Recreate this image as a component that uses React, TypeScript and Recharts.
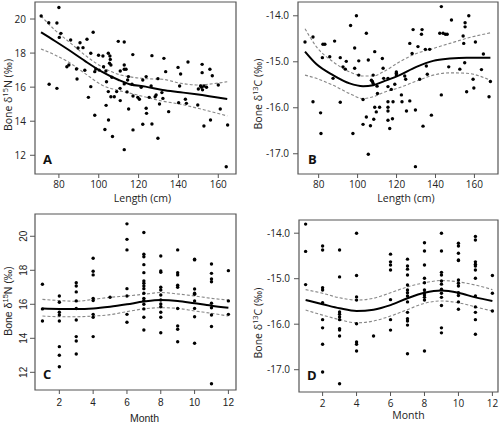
import React from "react";
import {
  ComposedChart,
  Scatter,
  Line,
  XAxis,
  YAxis,
  ReferenceArea,
} from "recharts";

// ---- Panel A: length vs bone d15N ----
const A_LENGTH = [
  71.1, 74.9, 79.0, 80.0, 81.0, 80.2, 75.1, 79.0, 85.9, 90.6,
  89.6, 92.1, 94.1, 97.2, 96.0, 84.0, 85.0, 88.8, 93.0, 89.1,
  96.0, 94.8, 98.0, 98.0, 98.5, 99.9, 100.2, 102.1, 102.4, 103.1,
  103.6, 103.9, 103.7, 104.8, 105.6, 105.8, 105.4, 106.1, 104.8, 104.9,
  106.1, 106.6, 106.9, 107.8, 109.0, 109.8, 110.7, 110.8, 110.8, 112.8,
  112.8, 112.8, 113.7, 112.8, 112.8, 114.5, 114.9, 114.2, 115.0, 116.7,
  117.1, 117.2, 117.2, 119.6, 120.4, 121.3, 122.1, 122.1, 123.8, 123.8,
  124.0, 125.3, 126.3, 126.7, 126.7, 128.3, 128.8, 129.7, 129.7, 130.5,
  131.7, 132.2, 132.7, 133.6, 135.1, 139.8, 140.1, 141.1, 140.6, 143.5,
  144.8, 144.0, 149.7, 150.0, 151.1, 151.6, 151.9, 151.9, 152.1, 152.8,
  152.8, 154.1, 155.8, 156.1, 157.0, 160.0, 161.0, 164.7, 164.0,
];
const A_D15N = [
  20.18, 19.78, 19.77, 20.68, 19.16, 18.92, 16.17, 15.93, 18.77, 18.61,
  18.3, 18.32, 18.81, 19.22, 17.99, 17.2, 17.3, 17.07, 16.99, 16.48,
  16.03, 15.4, 14.35, 16.91, 17.07, 17.87, 17.0, 17.83, 17.2, 13.51,
  16.95, 16.32, 14.93, 17.99, 17.83, 17.63, 17.4, 17.3, 15.74, 14.07,
  15.44, 16.58, 13.1, 15.44, 15.74, 18.69, 15.93, 16.95, 15.21, 18.65,
  17.3, 17.05, 17.05, 16.19, 12.33, 16.42, 16.62, 15.72, 14.72, 16.17,
  17.91, 15.48, 13.49, 15.4, 15.29, 15.99, 16.42, 13.82, 16.62, 14.76,
  14.46, 15.4, 16.07, 17.85, 13.84, 15.44, 15.54, 16.5, 13.0, 15.01,
  15.68, 15.34, 17.69, 16.91, 14.56, 17.16, 15.09, 16.77, 16.07, 15.29,
  17.48, 15.05, 14.95, 15.89, 16.07, 15.99, 17.34, 16.85, 15.84, 16.07,
  13.72, 15.99, 17.05, 14.07, 16.67, 16.13, 14.72, 13.78, 11.33,
];
const A_FIT_X = [71, 78, 85, 93, 101.5, 110, 115.5, 123.5, 132, 141, 149, 164.5];
const A_FIT = [19.22, 18.71, 18.18, 17.54, 16.91, 16.42, 16.17, 16.03, 15.83, 15.7, 15.58, 15.3];
const A_UPPER = [20.19, 19.35, 18.67, 17.89, 17.2, 16.75, 16.61, 16.5, 16.46, 16.23, 16.13, 16.32];
const A_LOWER = [18.24, 17.89, 17.46, 16.81, 16.13, 15.8, 15.65, 15.42, 15.18, 15.0, 14.78, 14.31];

// ---- Panel B: length vs bone d13C ----
const B_LENGTH = [
  73.0, 77.1, 77.1, 82.2, 83.2, 81.9, 81.0, 81.2, 85.7, 88.2,
  87.4, 91.1, 91.1, 92.5, 94.2, 93.7, 96.4, 98.5, 98.5, 99.4,
  100.6, 100.6, 97.6, 102.8, 102.8, 104.5, 104.5, 105.5, 105.5, 106.6,
  107.1, 107.6, 108.0, 108.0, 108.3, 108.8, 108.8, 109.6, 110.0, 110.2,
  111.3, 112.7, 113.1, 113.4, 115.6, 115.6, 115.6, 115.6, 115.6, 115.6,
  116.5, 117.3, 117.9, 118.2, 119.1, 119.9, 119.9, 119.9, 122.5, 122.8,
  124.2, 124.7, 125.1, 126.8, 126.8, 128.0, 128.5, 129.7, 129.7, 131.0,
  131.9, 132.8, 133.1, 133.6, 134.8, 135.3, 135.8, 137.0, 137.9, 142.2,
  143.0, 143.9, 145.1, 146.0, 143.0, 146.8, 148.2, 154.2, 154.5, 152.5,
  155.2, 155.2, 155.0, 156.0, 157.1, 159.3, 159.7, 160.5, 163.6, 164.6,
  167.5, 168.2,
];
const B_D13C = [
  -14.57, -14.46, -15.87, -14.62, -14.62, -14.91, -16.11, -16.56, -14.89, -14.55,
  -15.36, -14.91, -15.88, -15.11, -14.99, -15.16, -14.21, -14.7, -15.14, -14.0,
  -14.98, -15.29, -16.56, -15.82, -16.36, -14.38, -16.2, -14.96, -17.01, -16.39,
  -15.4, -15.43, -15.47, -15.29, -16.25, -14.78, -15.99, -16.09, -15.53, -15.69,
  -15.99, -14.93, -15.14, -15.36, -15.36, -15.54, -15.87, -15.99, -16.07, -16.27,
  -16.45, -15.6, -16.24, -15.87, -15.49, -15.22, -15.25, -15.29, -15.72, -15.87,
  -15.31, -15.38, -16.07, -14.6, -15.85, -14.82, -14.3, -16.05, -17.28, -14.67,
  -15.38, -14.4, -14.3, -16.4, -14.73, -15.09, -15.27, -14.73, -16.16, -14.38,
  -13.8, -14.38, -14.4, -14.4, -15.72, -15.11, -14.09, -14.44, -14.6, -15.16,
  -14.15, -14.24, -15.02, -15.65, -14.0, -15.38, -15.57, -14.57, -15.17, -14.83,
  -15.76, -15.43,
];
const B_FIT_X = [73, 78.8, 87.4, 95.9, 102.8, 108, 113.1, 121.6, 130.2, 138.8, 147.4, 156, 168.2];
const B_FIT = [-14.78, -15.05, -15.29, -15.47, -15.53, -15.51, -15.43, -15.29, -15.11, -14.98, -14.93, -14.91, -14.91];
const B_UPPER = [-14.28, -14.67, -15.0, -15.22, -15.31, -15.31, -15.22, -15.0, -14.82, -14.71, -14.6, -14.49, -14.37];
const B_LOWER = [-15.29, -15.36, -15.51, -15.69, -15.8, -15.76, -15.67, -15.56, -15.42, -15.29, -15.24, -15.25, -15.4];

// ---- Panel C: month vs bone d15N ----
const C_MONTH = [
  1, 1, 1,
  2, 2, 2, 2, 2, 2, 2, 2,
  3, 3, 3, 3, 3, 3, 3, 3, 3,
  4, 4, 4, 4, 4, 4, 4, 4,
  5,
  6, 6, 6, 6, 6, 6, 6,
  7, 7, 7, 7, 7, 7, 7, 7, 7, 7, 7, 7, 7, 7, 7, 7,
  8, 8, 8, 8, 8, 8, 8, 8, 8, 8, 8, 8,
  9, 9, 9, 9, 9, 9, 9, 9, 9,
  10, 10, 10, 10, 10, 10, 10, 10, 10,
  11, 11, 11, 11, 11, 11, 11, 11, 11,
  12, 12, 12,
];
const C_D15N = [
  17.18, 15.73, 15.02,
  16.49, 16.12, 15.53, 15.37, 15.02, 13.51, 13.0, 12.33,
  17.27, 17.08, 16.73, 16.2, 15.75, 15.08, 14.1, 13.84, 13.08,
  18.71, 17.94, 17.73, 16.35, 16.22, 15.41, 15.24, 14.1,
  16.41,
  20.73, 19.82, 19.2, 16.92, 16.49, 15.41, 14.94,
  20.22, 18.94, 18.8, 18.33, 17.86, 17.37, 17.24, 17.08, 16.92, 16.65, 16.35, 16.22, 16.0, 15.73, 15.24, 14.49,
  18.84, 17.96, 17.88, 17.0, 16.84, 16.55, 16.25, 16.02, 15.86, 15.53, 15.24, 14.33,
  19.2, 17.86, 17.73, 17.12, 17.0, 15.75, 14.73, 14.53, 13.8,
  18.65, 18.61, 16.9, 16.65, 16.59, 16.2, 15.76, 15.27, 13.71,
  18.37, 17.82, 17.49, 17.33, 16.06, 15.8, 15.37, 14.69, 11.33,
  17.98, 16.2, 15.41,
];
const MONTHS = [1, 2, 3, 4, 5, 6, 7, 8, 9, 10, 11, 12];
const C_FIT = [15.75, 15.73, 15.73, 15.76, 15.86, 16.0, 16.16, 16.25, 16.2, 16.06, 15.92, 15.8];
const C_UPPER = [16.29, 16.22, 16.18, 16.29, 16.41, 16.49, 16.59, 16.69, 16.61, 16.49, 16.35, 16.25];
const C_LOWER = [15.31, 15.27, 15.27, 15.31, 15.39, 15.57, 15.73, 15.8, 15.76, 15.61, 15.47, 15.31];

// ---- Panel D: month vs bone d13C ----
const D_MONTH = [
  1, 1, 1,
  2, 2, 2, 2, 2, 2, 2, 2, 2,
  3, 3, 3, 3, 3, 3, 3, 3, 3, 3,
  4, 4, 4, 4, 4, 4, 4, 4,
  5,
  6, 6, 6, 6, 6, 6, 6,
  7, 7, 7, 7, 7, 7, 7, 7, 7, 7, 7, 7, 7, 7,
  8, 8, 8, 8, 8, 8, 8, 8, 8, 8, 8,
  9, 9, 9, 9, 9, 9, 9, 9, 9, 9, 9, 9,
  10, 10, 10, 10, 10, 10, 10, 10, 10, 10, 10, 10,
  11, 11, 11, 11, 11, 11, 11, 11, 11, 11, 11, 11,
  12, 12, 12,
];
const D_D13C = [
  -13.8, -14.4, -15.13,
  -14.28, -14.37, -15.2, -15.25, -15.53, -15.9, -16.08, -16.44, -17.05,
  -14.37, -14.96, -15.73, -15.78, -15.84, -15.9, -16.1, -16.13, -16.26, -17.31,
  -14.0, -14.93, -15.4, -15.47, -15.99, -16.39, -16.44, -16.59,
  -16.26,
  -14.46, -14.63, -14.7, -14.81, -15.46, -15.9, -16.13,
  -14.57, -14.72, -14.79, -14.92, -15.14, -15.25, -15.31, -15.38, -15.51, -15.74, -15.88, -15.93, -16.02, -16.65,
  -14.21, -14.39, -14.7, -14.99, -15.09, -15.25, -15.31, -15.36, -15.41, -15.47, -16.59,
  -14.0, -14.39, -14.86, -14.92, -15.05, -15.12, -15.23, -15.32, -15.41, -15.59, -16.08, -16.19,
  -14.22, -14.28, -14.44, -14.59, -14.6, -15.03, -15.1, -15.16, -15.31, -15.37, -15.51, -15.67,
  -14.07, -14.15, -14.63, -14.68, -14.72, -14.81, -14.99, -15.38, -15.62, -15.74, -15.9, -16.22,
  -14.93, -15.32, -15.71,
];
const D_FIT = [-15.47, -15.56, -15.65, -15.71, -15.68, -15.58, -15.43, -15.31, -15.26, -15.31, -15.41, -15.49];
const D_UPPER = [-15.24, -15.32, -15.42, -15.47, -15.43, -15.31, -15.18, -15.09, -15.04, -15.07, -15.14, -15.24];
const D_LOWER = [-15.69, -15.8, -15.9, -15.97, -15.93, -15.82, -15.68, -15.54, -15.49, -15.53, -15.62, -15.71];

const LENGTH_TICKS = [80, 100, 120, 140, 160];
const MONTH_TICKS = [2, 4, 6, 8, 10, 12];
const N_TICKS = [12, 14, 16, 18, 20];
const C_TICKS = [-17, -16.5, -16, -15.5, -15, -14.5, -14];

const SANS = "'Open Sans', sans-serif";
const ARIAL = "'Liberation Sans', Arial, sans-serif";
const AXIS = "#555";
const INK = "#222";

const pts = (xs: number[], ys: number[]) => xs.map((x, i) => ({ x, y: ys[i] }));

const Dot = (p: any) => <circle cx={p.cx} cy={p.cy} r={1.7} fill="#000" />;

type PanelProps = {
  left: number;
  top: number;
  height: number;
  margin: { top: number; right: number };
  yWidth: number;
  xHeight: number;
  xDomain: [number, number];
  yDomain: [number, number];
  xTicks: number[];
  yTicks: number[];
  points: { x: number; y: number }[];
  fitX: number[];
  fit: number[];
  upper: number[];
  lower: number[];
  xTitle: string;
  iso: [string, string];
  font: string;
  rotateY?: boolean;
  decimals: number;
  xTickMargin: number;
  xTitleDx: number;
  xTitleDy: number;
  yTitleDy: number;
};

function Panel(p: PanelProps) {
  const tickStyle = { fill: INK, fontSize: 10, fontFamily: p.font };
  const yTick = (t: any) => {
    const label = t.payload.value.toFixed(p.decimals);
    if (p.rotateY) {
      return (
        <text
          x={t.x + 1}
          y={t.y}
          transform={`rotate(-90 ${t.x + 1} ${t.y})`}
          textAnchor="middle"
          fontSize={10}
          fontFamily={p.font}
          fill={INK}
        >
          {label}
        </text>
      );
    }
    return (
      <text x={t.x} y={t.y} dy="0.35em" textAnchor="end" {...tickStyle}>
        {label}
      </text>
    );
  };
  const yTitle = (props: any) => {
    const vb = props.viewBox;
    const x = vb.x + 12;
    const y = vb.y + vb.height / 2 + p.yTitleDy;
    return (
      <text
        x={x}
        y={y}
        transform={`rotate(-90 ${x} ${y})`}
        textAnchor="middle"
        fontSize={10.5}
        fontFamily={p.font}
        fill={INK}
      >
        Bone δ
        <tspan dy={-4} fontSize={7.5}>
          {p.iso[0]}
        </tspan>
        <tspan dy={4}>{p.iso[1]} (‰)</tspan>
      </text>
    );
  };
  const xTitle = (props: any) => {
    const vb = props.viewBox;
    return (
      <text
        x={vb.x + vb.width / 2 + p.xTitleDx}
        y={vb.y + p.xTitleDy}
        textAnchor="middle"
        fontSize={10.5}
        fontFamily={p.font}
        fill={INK}
      >
        {p.xTitle}
      </text>
    );
  };
  return (
    <div style={{ position: "absolute", left: p.left, top: p.top }}>
      <ComposedChart
        width={250}
        height={p.height}
        margin={{ top: p.margin.top, right: p.margin.right, left: 0, bottom: 0 }}
      >
        <XAxis
          type="number"
          dataKey="x"
          domain={p.xDomain}
          ticks={p.xTicks}
          allowDataOverflow
          height={p.xHeight}
          axisLine={false}
          tickLine={{ stroke: AXIS }}
          tickSize={4}
          tickMargin={p.xTickMargin}
          tick={tickStyle}
          label={xTitle}
        />
        <YAxis
          type="number"
          dataKey="y"
          domain={p.yDomain}
          ticks={p.yTicks}
          allowDataOverflow
          width={p.yWidth}
          axisLine={false}
          tickLine={{ stroke: AXIS }}
          tickSize={5}
          tickMargin={4}
          tick={yTick}
          label={yTitle}
        />
        <ReferenceArea
          x1={p.xDomain[0]}
          x2={p.xDomain[1]}
          y1={p.yDomain[0]}
          y2={p.yDomain[1]}
          fill="none"
          stroke={AXIS}
          strokeWidth={1.2}
        />
        <Scatter data={p.points} dataKey="y" shape={Dot} isAnimationActive={false} />
        <Line
          data={pts(p.fitX, p.upper)}
          dataKey="y"
          type="monotone"
          stroke="#888"
          strokeWidth={1.1}
          strokeDasharray="3 2"
          dot={false}
          isAnimationActive={false}
        />
        <Line
          data={pts(p.fitX, p.lower)}
          dataKey="y"
          type="monotone"
          stroke="#888"
          strokeWidth={1.1}
          strokeDasharray="3 2"
          dot={false}
          isAnimationActive={false}
        />
        <Line
          data={pts(p.fitX, p.fit)}
          dataKey="y"
          type="monotone"
          stroke="#000"
          strokeWidth={2}
          dot={false}
          isAnimationActive={false}
        />
      </ComposedChart>
    </div>
  );
}

export default function App() {
  return (
    <div
      style={{
        position: "absolute",
        left: 0,
        top: 0,
        width: 500,
        height: 423,
        background: "#fff",
        overflow: "hidden",
      }}
    >
      <Panel
        left={0}
        top={0}
        height={210}
        margin={{ top: 2, right: 14 }}
        yWidth={35}
        xHeight={36}
        xDomain={[68, 168.9]}
        yDomain={[10.9, 21.0]}
        xTicks={LENGTH_TICKS}
        yTicks={N_TICKS}
        points={pts(A_LENGTH, A_D15N)}
        fitX={A_FIT_X}
        fit={A_FIT}
        upper={A_UPPER}
        lower={A_LOWER}
        xTitle="Length (cm)"
        iso={["15", "N"]}
        font={SANS}
        decimals={0}
        xTickMargin={3}
        xTitleDx={7}
        xTitleDy={28}
        yTitleDy={7}
      />
      <Panel
        left={250}
        top={0}
        height={210}
        margin={{ top: 2, right: 2 }}
        yWidth={48}
        xHeight={36}
        xDomain={[69.4, 172.1]}
        yDomain={[-17.44, -13.7]}
        xTicks={LENGTH_TICKS}
        yTicks={C_TICKS}
        points={pts(B_LENGTH, B_D13C)}
        fitX={B_FIT_X}
        fit={B_FIT}
        upper={B_UPPER}
        lower={B_LOWER}
        xTitle="Length (cm)"
        iso={["13", "C"]}
        font={SANS}
        decimals={1}
        xTickMargin={3}
        xTitleDx={8}
        xTitleDy={28}
        yTitleDy={6}
      />
      <Panel
        left={0}
        top={210}
        height={213}
        margin={{ top: 4, right: 14 }}
        yWidth={35}
        xHeight={33}
        xDomain={[0.56, 12.45]}
        yDomain={[10.96, 21.31]}
        xTicks={MONTH_TICKS}
        yTicks={N_TICKS}
        points={pts(C_MONTH, C_D15N)}
        fitX={MONTHS}
        fit={C_FIT}
        upper={C_UPPER}
        lower={C_LOWER}
        xTitle="Month"
        iso={["15", "N"]}
        font={ARIAL}
        rotateY
        decimals={0}
        xTickMargin={5}
        xTitleDx={9}
        xTitleDy={32}
        yTitleDy={-1}
      />
      <Panel
        left={250}
        top={210}
        height={213}
        margin={{ top: 10, right: 2 }}
        yWidth={49}
        xHeight={31}
        xDomain={[0.61, 12.33]}
        yDomain={[-17.49, -13.71]}
        xTicks={MONTH_TICKS}
        yTicks={C_TICKS}
        points={pts(D_MONTH, D_D13C)}
        fitX={MONTHS}
        fit={D_FIT}
        upper={D_UPPER}
        lower={D_LOWER}
        xTitle="Month"
        iso={["13", "C"]}
        font={SANS}
        decimals={1}
        xTickMargin={4}
        xTitleDx={10}
        xTitleDy={27}
        yTitleDy={17}
      />
      <svg
        width={500}
        height={423}
        style={{ position: "absolute", left: 0, top: 0, pointerEvents: "none" }}
      >
        <g fontFamily={SANS} fontWeight="bold" fontSize={13} fill="#111">
          <text x={43} y={164}>A</text>
          <text x={308} y={164}>B</text>
          <text x={43} y={379}>C</text>
          <text x={307} y={380}>D</text>
        </g>
      </svg>
    </div>
  );
}
